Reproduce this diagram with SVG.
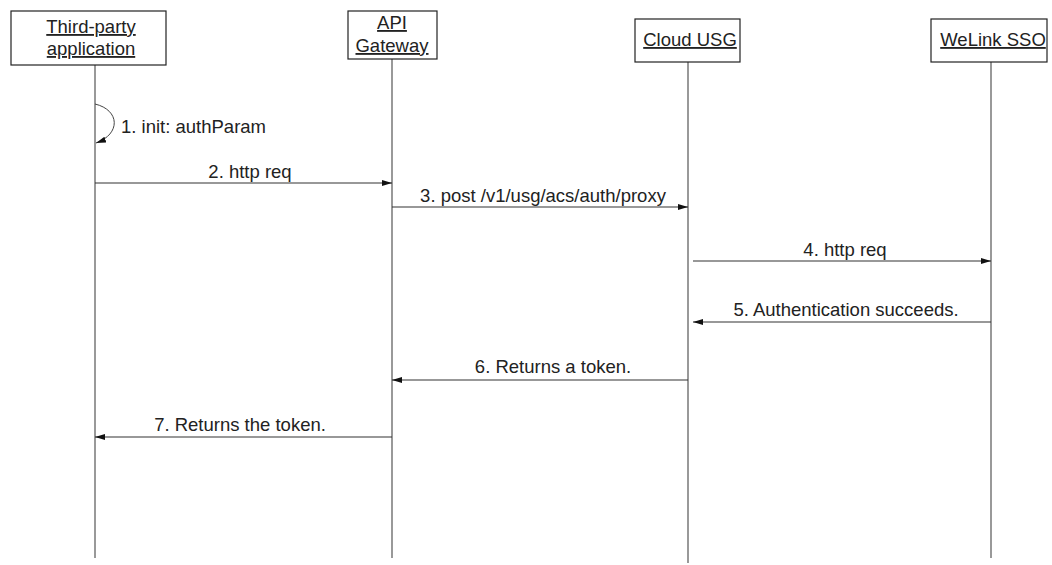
<svg xmlns="http://www.w3.org/2000/svg" width="1052" height="565" viewBox="0 0 1052 565">
<style>
.box{fill:#fff;stroke:#222;stroke-width:1.2}
.life{stroke:#555;stroke-width:1.2;fill:none}
.msg{stroke:#333;stroke-width:1.2;fill:none;marker-end:url(#ah)}
.arc{stroke:#444;stroke-width:1;fill:none;marker-end:url(#ah)}
.t{font-family:"Liberation Sans",Arial,sans-serif;font-size:18.5px;fill:#222}
.h{font-family:"Liberation Sans",Arial,sans-serif;font-size:18.5px;fill:#222;text-decoration:underline;text-anchor:middle}
.c{text-anchor:middle}
</style>
<defs>
<marker id="ah" markerWidth="10" markerHeight="8" refX="10" refY="4" orient="auto" markerUnits="userSpaceOnUse">
<path d="M0,1 L10,4 L0,7 Z" fill="#111"/>
</marker>
</defs>
<g id="lifelines">
<line class="life" x1="95" y1="65" x2="95" y2="558"/>
<line class="life" x1="392" y1="59" x2="392" y2="558"/>
<line class="life" x1="688" y1="62" x2="688" y2="563"/>
<line class="life" x1="991" y1="62" x2="991" y2="558"/>
</g>
<g id="third-party">
<rect class="box" x="11" y="11" width="155" height="54"/>
<text class="h" x="91" y="33">Third-party</text>
<text class="h" x="91" y="55">application</text>
</g>
<g id="api-gateway">
<rect class="box" x="348" y="11" width="89" height="48"/>
<text class="h" x="392" y="29">API</text>
<text class="h" x="392" y="52">Gateway</text>
</g>
<g id="cloud-usg">
<rect class="box" x="635" y="19" width="105" height="43"/>
<text class="h" x="690" y="46">Cloud USG</text>
</g>
<g id="welink-sso">
<rect class="box" x="931" y="19" width="116" height="43"/>
<text class="h" x="993" y="46">WeLink SSO</text>
</g>
<g id="connectors">
<path class="arc" d="M95,104 C120,110 121,134 96,143"/>
<line class="msg" x1="95" y1="183" x2="392" y2="183"/>
<line class="msg" x1="392" y1="207" x2="688" y2="207"/>
<line class="msg" x1="693" y1="261" x2="991" y2="261"/>
<line class="msg" x1="991" y1="322" x2="693" y2="322"/>
<line class="msg" x1="688" y1="380" x2="392" y2="380"/>
<line class="msg" x1="392" y1="437" x2="95" y2="437"/>
</g>
<g id="labels">
<text class="t" x="121" y="133">1. init: authParam</text>
<text class="t c" x="250" y="178">2. http req</text>
<text class="t c" x="543" y="202">3. post /v1/usg/acs/auth/proxy</text>
<text class="t c" x="845" y="256">4. http req</text>
<text class="t c" x="846" y="316">5. Authentication succeeds.</text>
<text class="t c" x="553" y="373">6. Returns a token.</text>
<text class="t c" x="240" y="431">7. Returns the token.</text>
</g>
</svg>
